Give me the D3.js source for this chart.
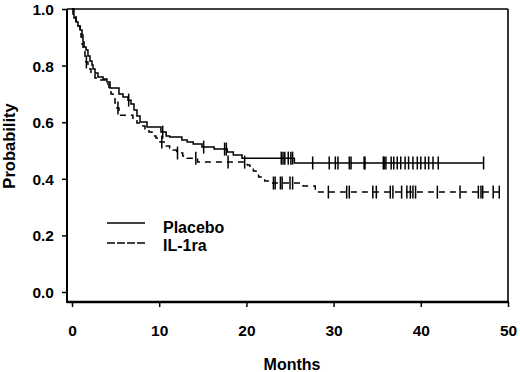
<!DOCTYPE html>
<html><head><meta charset="utf-8">
<script src="https://cdn.jsdelivr.net/npm/d3@7"></script>
<style>
html,body{margin:0;padding:0;background:#fff;}
text{font-family:"Liberation Sans",Arial,sans-serif;font-weight:bold;fill:#000;}
</style></head>
<body><svg id="c" width="520" height="372"></svg>
<script>
// Kaplan-Meier step data (months, survival probability after each step)
const placeboTimes = [0.11,0.23,0.46,0.69,0.92,1.15,1.26,1.38,1.61,1.83,2.06,2.29,2.41,2.64,2.98,3.56,4.01,4.36,5.39,5.85,6.42,6.77,7.11,7.45,7.80,8.60,10.2,10.8,11.2,12.6,13.2,13.9,14.9,16.3,17.8,18.5,19.5,25.5];
const placeboSurv  = [0.982,0.968,0.954,0.940,0.926,0.908,0.883,0.866,0.855,0.834,0.816,0.802,0.788,0.774,0.760,0.753,0.742,0.721,0.700,0.689,0.678,0.664,0.643,0.622,0.601,0.583,0.565,0.551,0.548,0.537,0.530,0.523,0.512,0.505,0.495,0.484,0.473,0.456];
const placeboEnd = 47.2;
const placeboCensor = [6.5,10.4,15.1,17.5,17.7,24.0,24.2,24.4,24.8,25.1,25.3,27.6,29.5,30.2,30.5,31.8,32.0,33.5,33.6,35.7,35.8,36.0,36.6,36.9,37.3,37.7,38.2,38.6,39.1,39.6,40.0,40.5,40.9,41.4,42.0,47.2];

const il1raTimes = [0.23,0.46,0.69,0.92,1.03,1.15,1.26,1.49,1.60,1.83,2.18,2.64,2.87,4.01,4.24,4.47,4.70,4.93,5.16,5.39,6.99,7.45,7.91,8.37,8.83,9.17,9.63,10.1,10.8,11.2,11.6,12.0,12.7,13.2,14.4,20.1,20.4,20.8,21.1,21.4,21.8,22.1,22.7,26.5,27.9];
const il1raSurv  = [0.979,0.958,0.940,0.922,0.901,0.876,0.848,0.830,0.813,0.788,0.770,0.756,0.749,0.735,0.717,0.700,0.686,0.668,0.650,0.625,0.611,0.597,0.587,0.576,0.565,0.551,0.544,0.530,0.516,0.509,0.502,0.491,0.481,0.473,0.459,0.449,0.438,0.428,0.417,0.406,0.399,0.392,0.385,0.375,0.353];
const il1raEnd = 49.0;
const il1raCensor = [1.65,5.27,10.3,12.1,14.2,17.9,19.8,23.1,23.3,23.9,24.1,25.0,25.3,29.4,31.5,31.8,34.5,34.9,36.5,36.8,37.8,38.4,38.8,39.1,39.4,41.9,44.5,46.6,46.9,47.1,48.3,49.0];

const xTicks = [0,10,20,30,40,50];
const yTicks = [0.0,0.2,0.4,0.6,0.8,1.0];
const seriesNames = ["Placebo","IL-1ra"];

const svg = d3.select("#c");
const x = d3.scaleLinear().domain([0,50]).range([72,508]);
const y = d3.scaleLinear().domain([0,1]).range([292,9]);

// frame
const L=67, R=508, T=9, B=302;
svg.append("line").attr("x1",L).attr("x2",R).attr("y1",T).attr("y2",T).attr("stroke","#000").attr("stroke-width",1.6);
svg.append("line").attr("x1",R).attr("x2",R).attr("y1",T).attr("y2",B).attr("stroke","#000").attr("stroke-width",1.6);
svg.append("line").attr("x1",L).attr("x2",L).attr("y1",T).attr("y2",B+1).attr("stroke","#000").attr("stroke-width",2);
svg.append("line").attr("x1",L).attr("x2",R+1).attr("y1",B).attr("y2",B).attr("stroke","#000").attr("stroke-width",2.4);

// axes
const ya = svg.append("g").attr("transform",`translate(${L},0)`)
  .call(d3.axisLeft(y).tickValues(yTicks).tickFormat(d3.format(".1f")).tickSize(5).tickPadding(8));
ya.select(".domain").remove();
ya.selectAll("line").attr("stroke","#000").attr("stroke-width",1.5);
ya.selectAll("text").style("font-size","15.5px").style("font-family",'"Liberation Sans",Arial,sans-serif').style("font-weight","bold").attr("dy","0.35em");

const xa = svg.append("g").attr("transform",`translate(0,${B})`)
  .call(d3.axisBottom(x).tickValues(xTicks).tickFormat(d3.format("d")).tickSize(5).tickPadding(18));
xa.select(".domain").remove();
xa.selectAll("line").attr("stroke","#000").attr("stroke-width",1.5);
xa.selectAll("text").style("font-size","15.5px").style("font-family",'"Liberation Sans",Arial,sans-serif').style("font-weight","bold");

svg.append("text").attr("x",292).attr("y",370).attr("text-anchor","middle").style("font-size","16px").text("Months");
svg.append("text").attr("transform","translate(15,146) rotate(-90)").attr("text-anchor","middle").style("font-size","16.5px").text("Probability");

function pts(times,surv,end){
  const p=[[0,1]];
  times.forEach((t,i)=>p.push([t,surv[i]]));
  p.push([end,surv[surv.length-1]]);
  return p;
}
function survAt(times,surv,t){
  let s=1;
  for(let i=0;i<times.length;i++){ if(times[i]<=t) s=surv[i]; }
  return s;
}
const line = d3.line().x(d=>x(d[0])).y(d=>y(d[1])).curve(d3.curveStepAfter);

const series = [
  {times:placeboTimes,surv:placeboSurv,end:placeboEnd,cens:placeboCensor,dash:null},
  {times:il1raTimes,surv:il1raSurv,end:il1raEnd,cens:il1raCensor,dash:"6,5"}
];
series.forEach(s=>{
  svg.append("path").attr("d",line(pts(s.times,s.surv,s.end)))
    .attr("fill","none").attr("stroke","#000").attr("stroke-width",1.5)
    .attr("stroke-dasharray",s.dash);
  svg.selectAll(null).data(s.cens).enter().append("line")
    .attr("x1",d=>x(d)).attr("x2",d=>x(d))
    .attr("y1",d=>y(survAt(s.times,s.surv,d))-6.5)
    .attr("y2",d=>y(survAt(s.times,s.surv,d))+6.5)
    .attr("stroke","#000").attr("stroke-width",1.5);
});

// legend
const lg = svg.append("g");
lg.append("line").attr("x1",107).attr("x2",145).attr("y1",223).attr("y2",223).attr("stroke","#000").attr("stroke-width",1.5);
lg.append("line").attr("x1",107).attr("x2",145).attr("y1",243).attr("y2",243).attr("stroke","#000").attr("stroke-width",1.5).attr("stroke-dasharray","8,2");
lg.append("text").attr("x",163).attr("y",233).style("font-size","16px").text(seriesNames[0]);
lg.append("text").attr("x",163).attr("y",251).style("font-size","16px").text(seriesNames[1]);
</script></body></html>
